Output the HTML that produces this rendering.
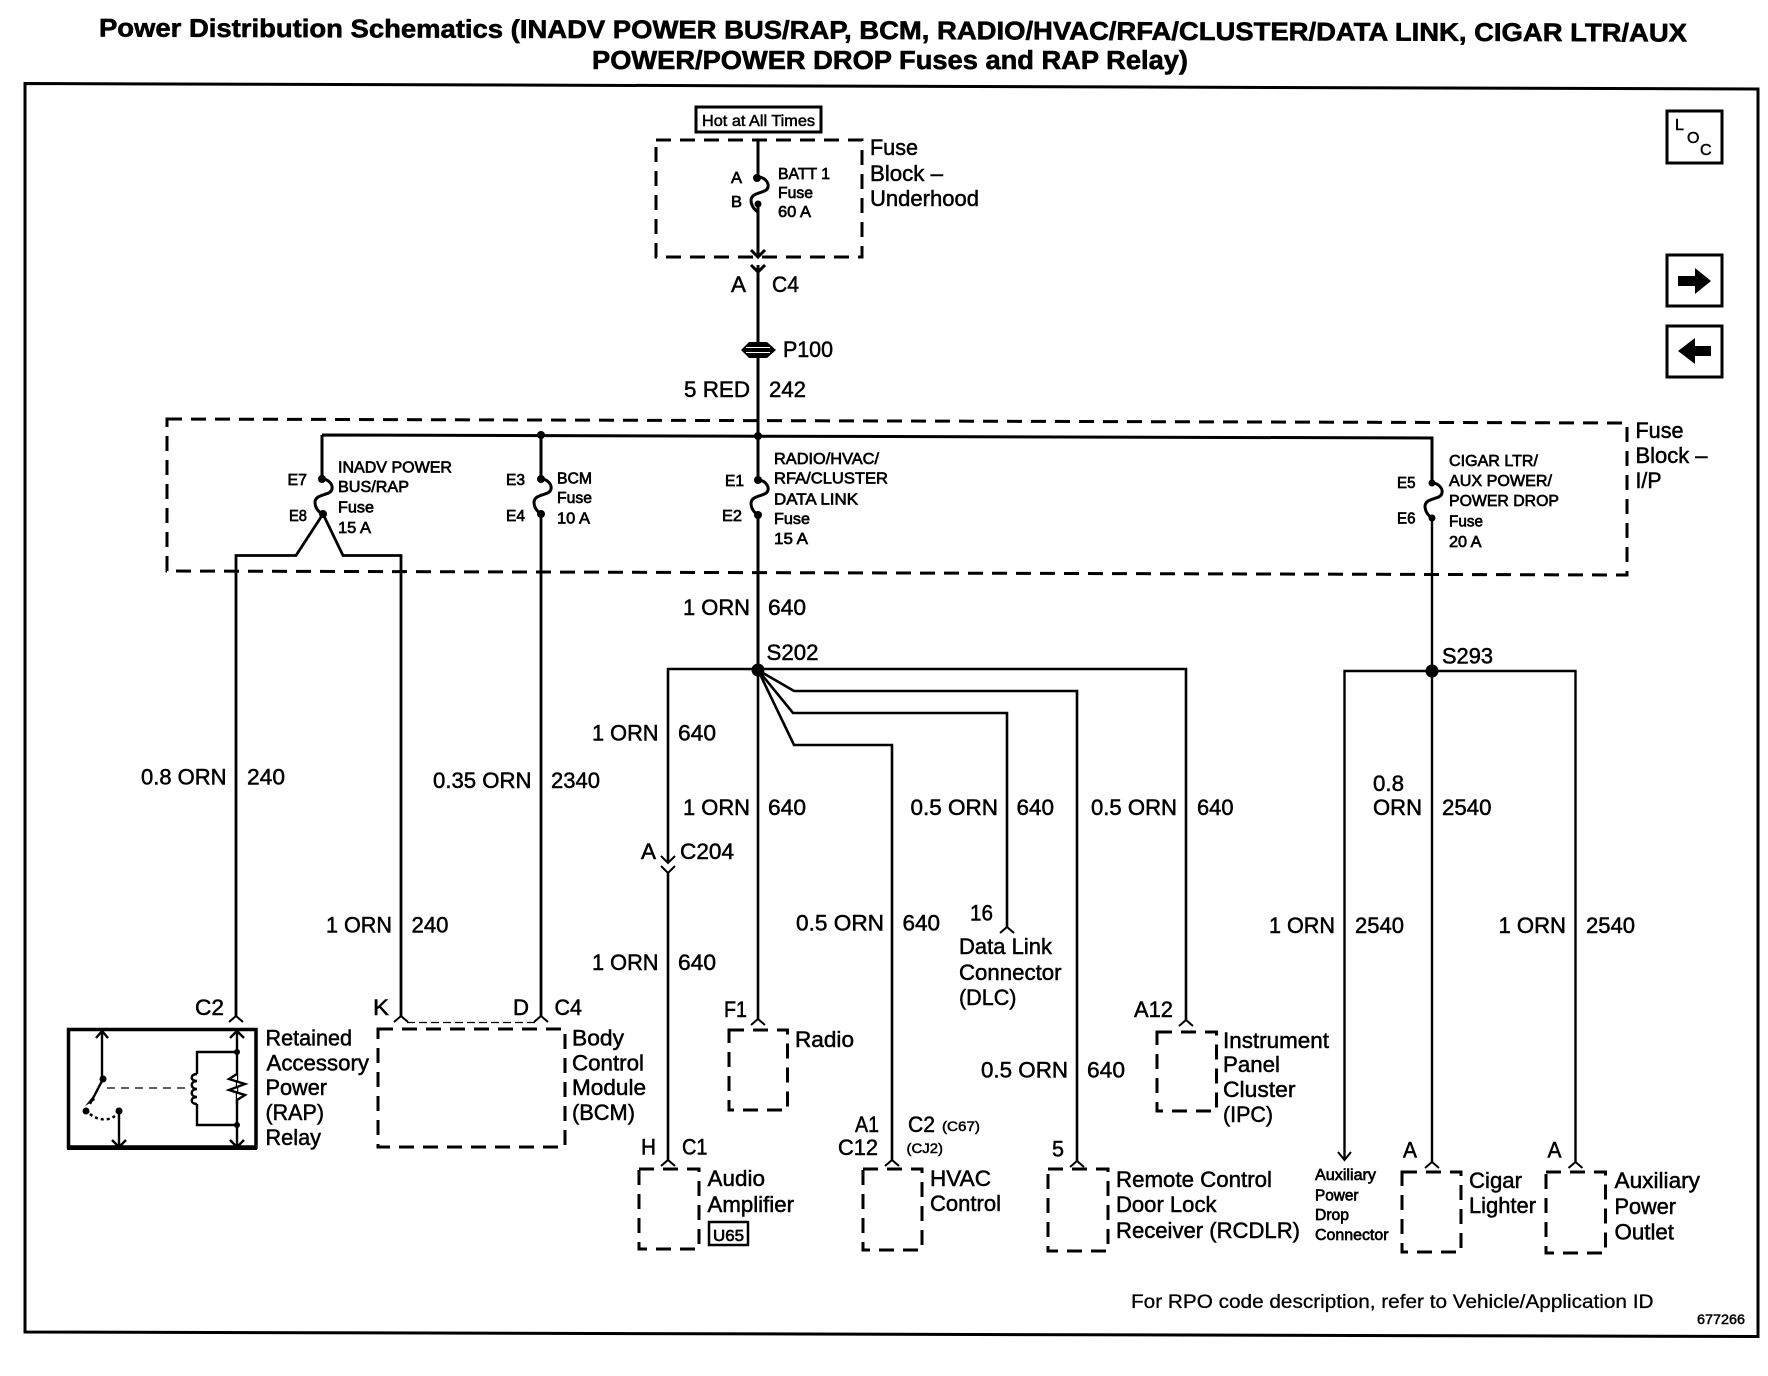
<!DOCTYPE html>
<html><head><meta charset="utf-8"><style>
html,body{margin:0;padding:0;background:#fff}
svg{display:block}
text{font-family:"Liberation Sans",sans-serif;fill:#000;stroke:#000;stroke-width:.5}
.m{font-size:22px}.s{font-size:15.5px;stroke-width:.65}.t{font-size:25.5px;font-weight:bold;stroke-width:.6}.f{font-size:19.5px;stroke-width:.3}.x{font-size:13.5px;stroke-width:.5}
.w{fill:none;stroke:#000;stroke-width:2.4}
.d{fill:none;stroke:#000;stroke-width:3;stroke-dasharray:15 9}
.n{fill:none;stroke:#000;stroke-width:2}
</style></head><body>
<svg width="1768" height="1376" viewBox="0 0 1768 1376" xmlns="http://www.w3.org/2000/svg">
<defs>
<path id="c" class="n" d="M-7 6L0 0L7 6"/>
<path id="fu" class="n" style="stroke-width:3" d="M0 0C6 0 11 5 10 10C9 17 -6 14 -7 23C-7 29 -3 33 0 35"/>
</defs>
<rect width="1768" height="1376" fill="#fff"/>

<!-- Title -->
<text class="t" x="99" y="36.500" textLength="1588" lengthAdjust="spacingAndGlyphs" transform="rotate(.18 99 36.500)">Power Distribution Schematics (INADV POWER BUS/RAP, BCM, RADIO/HVAC/RFA/CLUSTER/DATA LINK, CIGAR LTR/AUX</text>
<text class="t" x="592" y="69" textLength="596" lengthAdjust="spacingAndGlyphs">POWER/POWER DROP Fuses and RAP Relay)</text>

<!-- Frame -->
<path d="M25 83.500L1758 89L1758 1336.500L25 1332Z" fill="none" stroke="#000" stroke-width="3"/>

<!-- Nav boxes -->
<rect x="1667" y="111" width="55" height="52" fill="none" stroke="#000" stroke-width="3"/>
<text x="1675" y="130" style="font-size:16px">L</text><text x="1687" y="143" style="font-size:16px">O</text><text x="1700" y="155" style="font-size:16px">C</text>
<rect x="1667" y="255" width="55" height="51" fill="none" stroke="#000" stroke-width="3"/>
<path d="M1678 276H1695V268L1711 281L1695 294V286H1678Z"/>
<rect x="1667" y="326" width="55" height="51" fill="none" stroke="#000" stroke-width="3"/>
<path d="M1711 346H1695V338L1678 351L1695 364V356H1711Z"/>

<!-- Hot at all times -->
<rect x="696" y="107" width="125" height="25" fill="none" stroke="#000" stroke-width="3"/>
<text x="702" y="126" style="font-size:16px" textLength="113" lengthAdjust="spacingAndGlyphs">Hot at All Times</text>

<!-- Dashed fuse boxes -->
<path class="d" d="M656 140H862V257H656Z"/>
<path class="d" d="M167 419L1627 423V575L167 571Z"/>

<!-- Batt fuse + main wire -->
<path class="w" style="stroke-width:3" d="M758 140V178M758 204V257M758 265V435"/>
<use href="#fu" x="758" y="177" transform="translate(0,0)"/>
<circle cx="757" cy="178" r="4"/><circle cx="758" cy="204" r="3.500"/>
<path class="n" style="stroke-width:3" d="M751 250L758 257L765 250M751 265L758 272L765 265"/>
<path d="M741 350L749 342H767L776 350L767 358H749Z"/>
<path d="M746 347.500H770M746 352.500H770" stroke="#fff" stroke-width="1"/>

<!-- Fuse block I/P wires -->
<path class="w" style="stroke-width:3" d="M322 435L1432 438V483M322 435V479M541 435V479M758 436V480M758 514V670"/>
<path class="w" d="M1432 517V671"/>
<use href="#fu" x="322" y="479"/><use href="#fu" x="541" y="479"/><use href="#fu" x="758" y="480"/><use href="#fu" x="1432" y="483"/>
<circle cx="541" cy="435" r="4"/><circle cx="758" cy="436" r="4"/>
<circle cx="322" cy="479" r="4"/><circle cx="323" cy="514" r="4"/>
<circle cx="541" cy="479" r="4"/><circle cx="541" cy="514" r="4"/>
<circle cx="758" cy="480" r="4"/><circle cx="758" cy="515" r="4"/>
<circle cx="1432" cy="483" r="3.500"/><circle cx="1432" cy="518" r="3.500"/>
<path class="w" style="stroke-width:2.800" d="M323 514L296 555.500H236V1017M323 514L343 555.500H401V1017M541 514V1017"/>

<!-- S202 -->
<path class="w" style="stroke-width:2.600" d="M668 1160V872M668 863V669H758H1186V1020M758 670V1019"/>
<circle cx="758" cy="670" r="6.500"/>
<path class="w" style="stroke-width:2.600" d="M758 670L794 691H1077V1161M758 670L793 713H1007V927M758 670L794 745H892V1160"/>
<path class="n" d="M661 856L668 863L675 856M661 866L668 873L675 866"/>

<!-- S293 -->
<path class="w" style="stroke-width:2.400" d="M1344.500 1158V671H1575.500V1162M1432 671V1162"/>
<circle cx="1432" cy="671" r="6.500"/>
<path class="n" d="M1338 1152L1344.500 1160L1351 1152"/>

<!-- Connector chevrons -->
<use href="#c" x="236" y="1016"/><use href="#c" x="401" y="1016"/><use href="#c" x="541" y="1016"/>
<use href="#c" x="758" y="1019"/><use href="#c" x="668" y="1160"/><use href="#c" x="892" y="1160"/>
<use href="#c" x="1077" y="1161"/><use href="#c" x="1007" y="927"/><use href="#c" x="1186" y="1020"/>
<use href="#c" x="1432" y="1162"/><use href="#c" x="1575.500" y="1162"/>

<!-- Component boxes -->
<path class="n" style="stroke-dasharray:8 4;stroke-width:1.200" d="M407 1022.500H535"/>
<path class="d" d="M378 1029H565V1147H378Z"/>
<path class="d" d="M729 1030H787.500V1110H729Z"/>
<path class="d" d="M639 1169H699V1249H639Z"/>
<path class="d" d="M863 1169H922V1250H863Z"/>
<path class="d" d="M1048 1169H1108V1251H1048Z"/>
<path class="d" d="M1157 1032H1216.500V1111H1157Z"/>
<path class="d" d="M1402 1172H1461V1252H1402Z"/>
<path class="d" d="M1546 1172H1605.500V1253H1546Z"/>

<!-- RAP relay -->
<path d="M68.500 1029.500H256V1147H68.500Z" fill="none" stroke="#000" stroke-width="3.500"/>
<path d="M67 1146H257V1150H67Z"/>
<path class="w" d="M102 1079V1032M96 1038L102 1031L108 1038"/>
<path class="w" d="M103 1079L90 1104"/>
<path class="w" d="M119 1111V1146M112 1140L119 1147L126 1140"/>
<path class="w" d="M237 1031V1147M230 1038L237 1031L244 1038M230 1140L237 1147L244 1140"/>
<path class="w" d="M237 1052H197V1074M197 1104V1125H237"/>
<path class="w" d="M197 1074C190 1074 190 1081 197 1081C190 1081 190 1089 197 1089C190 1089 190 1097 197 1097C190 1097 190 1104 197 1104"/>
<path d="M237 1074L229 1079L245 1084L229 1090L245 1095L237 1100V1104" fill="#fff" stroke="#000" stroke-width="2.400"/>
<path class="n" style="stroke-dasharray:8 6;stroke-width:1.200" d="M107 1088H190"/>
<path class="n" style="stroke-dasharray:3 3;stroke-width:2.500" d="M90 1114C98 1121 110 1121 116 1115"/>
<circle cx="103" cy="1079" r="3.500"/><circle cx="86" cy="1111" r="3.500"/><circle cx="119" cy="1111" r="3.500"/>
<circle cx="237" cy="1052" r="3"/><circle cx="237" cy="1125" r="3"/>
<path d="M85 1106L93 1096L95 1100Z"/>

<!-- U65 -->
<rect x="709" y="1222" width="39" height="23" fill="none" stroke="#000" stroke-width="2.500"/>

<!-- Labels: main -->
<text class="m" x="870" y="155" textLength="48" lengthAdjust="spacingAndGlyphs">Fuse</text>
<text class="m" x="870" y="181" textLength="73" lengthAdjust="spacingAndGlyphs">Block –</text>
<text class="m" x="870" y="206" textLength="109" lengthAdjust="spacingAndGlyphs">Underhood</text>
<text class="m" x="731" y="292" textLength="15" lengthAdjust="spacingAndGlyphs">A</text>
<text class="m" x="772" y="292" textLength="27" lengthAdjust="spacingAndGlyphs">C4</text>
<text class="m" x="783" y="357" textLength="50" lengthAdjust="spacingAndGlyphs">P100</text>
<text class="m" x="684" y="397" textLength="66" lengthAdjust="spacingAndGlyphs">5 RED</text>
<text class="m" x="769" y="397" textLength="37" lengthAdjust="spacingAndGlyphs">242</text>
<text class="m" x="1635.500" y="438" textLength="48" lengthAdjust="spacingAndGlyphs">Fuse</text>
<text class="m" x="1635.500" y="463" textLength="72" lengthAdjust="spacingAndGlyphs">Block –</text>
<text class="m" x="1635.500" y="488" textLength="26" lengthAdjust="spacingAndGlyphs">I/P</text>
<text class="m" x="683" y="615" textLength="67" lengthAdjust="spacingAndGlyphs">1 ORN</text>
<text class="m" x="768" y="615" textLength="38" lengthAdjust="spacingAndGlyphs">640</text>
<text class="m" x="766.500" y="660" textLength="52" lengthAdjust="spacingAndGlyphs">S202</text>
<text class="m" x="1442" y="663.500" textLength="51" lengthAdjust="spacingAndGlyphs">S293</text>
<text class="m" x="592" y="740.500" textLength="66.500" lengthAdjust="spacingAndGlyphs">1 ORN</text>
<text class="m" x="678" y="740.500" textLength="38" lengthAdjust="spacingAndGlyphs">640</text>
<text class="m" x="683" y="815" textLength="67" lengthAdjust="spacingAndGlyphs">1 ORN</text>
<text class="m" x="768" y="815" textLength="38" lengthAdjust="spacingAndGlyphs">640</text>
<text class="m" x="141" y="784.500" textLength="85.500" lengthAdjust="spacingAndGlyphs">0.8 ORN</text>
<text class="m" x="247" y="784.500" textLength="38" lengthAdjust="spacingAndGlyphs">240</text>
<text class="m" x="433" y="788" textLength="98.500" lengthAdjust="spacingAndGlyphs">0.35 ORN</text>
<text class="m" x="551" y="788" textLength="49" lengthAdjust="spacingAndGlyphs">2340</text>
<text class="m" x="641" y="859" textLength="15" lengthAdjust="spacingAndGlyphs">A</text>
<text class="m" x="680" y="859" textLength="54" lengthAdjust="spacingAndGlyphs">C204</text>
<text class="m" x="326" y="932.500" textLength="66" lengthAdjust="spacingAndGlyphs">1 ORN</text>
<text class="m" x="411.500" y="932.500" textLength="37" lengthAdjust="spacingAndGlyphs">240</text>
<text class="m" x="592" y="970" textLength="66.500" lengthAdjust="spacingAndGlyphs">1 ORN</text>
<text class="m" x="678" y="970" textLength="38" lengthAdjust="spacingAndGlyphs">640</text>
<text class="m" x="796" y="930.500" textLength="88" lengthAdjust="spacingAndGlyphs">0.5 ORN</text>
<text class="m" x="902.500" y="930.500" textLength="37.500" lengthAdjust="spacingAndGlyphs">640</text>
<text class="m" x="195" y="1015" textLength="29" lengthAdjust="spacingAndGlyphs">C2</text>
<text class="m" x="373" y="1015" textLength="16" lengthAdjust="spacingAndGlyphs">K</text>
<text class="m" x="513" y="1015" textLength="16" lengthAdjust="spacingAndGlyphs">D</text>
<text class="m" x="554.500" y="1015" textLength="27.500" lengthAdjust="spacingAndGlyphs">C4</text>
<text class="m" x="724" y="1017" textLength="23" lengthAdjust="spacingAndGlyphs">F1</text>
<text class="m" x="265.500" y="1045.500" textLength="86.500" lengthAdjust="spacingAndGlyphs">Retained</text>
<text class="m" x="266.500" y="1070.500" textLength="102.500" lengthAdjust="spacingAndGlyphs">Accessory</text>
<text class="m" x="265.500" y="1095" textLength="61.500" lengthAdjust="spacingAndGlyphs">Power</text>
<text class="m" x="265.500" y="1120" textLength="58.500" lengthAdjust="spacingAndGlyphs">(RAP)</text>
<text class="m" x="265.500" y="1145" textLength="55.500" lengthAdjust="spacingAndGlyphs">Relay</text>
<text class="m" x="572" y="1045.500" textLength="52" lengthAdjust="spacingAndGlyphs">Body</text>
<text class="m" x="572" y="1070.500" textLength="72" lengthAdjust="spacingAndGlyphs">Control</text>
<text class="m" x="572" y="1095" textLength="74" lengthAdjust="spacingAndGlyphs">Module</text>
<text class="m" x="572" y="1120" textLength="63" lengthAdjust="spacingAndGlyphs">(BCM)</text>
<text class="m" x="795" y="1047" textLength="59" lengthAdjust="spacingAndGlyphs">Radio</text>
<text class="m" x="641" y="1154.500" textLength="15" lengthAdjust="spacingAndGlyphs">H</text>
<text class="m" x="682" y="1154.500" textLength="25.500" lengthAdjust="spacingAndGlyphs">C1</text>
<text class="m" x="707.500" y="1186" textLength="57.500" lengthAdjust="spacingAndGlyphs">Audio</text>
<text class="m" x="707.500" y="1212" textLength="86.500" lengthAdjust="spacingAndGlyphs">Amplifier</text>
<text class="m" x="855" y="1132" textLength="24" lengthAdjust="spacingAndGlyphs">A1</text>
<text class="m" x="838" y="1155" textLength="40" lengthAdjust="spacingAndGlyphs">C12</text>
<text class="m" x="910.500" y="815" textLength="87.500" lengthAdjust="spacingAndGlyphs">0.5 ORN</text>
<text class="m" x="1016.500" y="815" textLength="37.500" lengthAdjust="spacingAndGlyphs">640</text>
<text class="m" x="1091" y="815" textLength="86" lengthAdjust="spacingAndGlyphs">0.5 ORN</text>
<text class="m" x="1197" y="815" textLength="36.500" lengthAdjust="spacingAndGlyphs">640</text>
<text class="m" x="1373" y="791" textLength="31" lengthAdjust="spacingAndGlyphs">0.8</text>
<text class="m" x="1373" y="815" textLength="49" lengthAdjust="spacingAndGlyphs">ORN</text>
<text class="m" x="1442" y="815" textLength="49.500" lengthAdjust="spacingAndGlyphs">2540</text>
<text class="m" x="970" y="920.500" textLength="23" lengthAdjust="spacingAndGlyphs">16</text>
<text class="m" x="959" y="954" textLength="93" lengthAdjust="spacingAndGlyphs">Data Link</text>
<text class="m" x="959" y="980" textLength="102.500" lengthAdjust="spacingAndGlyphs">Connector</text>
<text class="m" x="959" y="1005" textLength="57.500" lengthAdjust="spacingAndGlyphs">(DLC)</text>
<text class="m" x="1269" y="933" textLength="66" lengthAdjust="spacingAndGlyphs">1 ORN</text>
<text class="m" x="1355" y="933" textLength="49" lengthAdjust="spacingAndGlyphs">2540</text>
<text class="m" x="1498.500" y="933" textLength="67.500" lengthAdjust="spacingAndGlyphs">1 ORN</text>
<text class="m" x="1586" y="933" textLength="49" lengthAdjust="spacingAndGlyphs">2540</text>
<text class="m" x="1134" y="1017" textLength="39" lengthAdjust="spacingAndGlyphs">A12</text>
<text class="m" x="1223" y="1048" textLength="106" lengthAdjust="spacingAndGlyphs">Instrument</text>
<text class="m" x="1223" y="1072" textLength="57" lengthAdjust="spacingAndGlyphs">Panel</text>
<text class="m" x="1223" y="1097" textLength="72.500" lengthAdjust="spacingAndGlyphs">Cluster</text>
<text class="m" x="1223" y="1122" textLength="50" lengthAdjust="spacingAndGlyphs">(IPC)</text>
<text class="m" x="981" y="1077.500" textLength="87" lengthAdjust="spacingAndGlyphs">0.5 ORN</text>
<text class="m" x="1087" y="1077.500" textLength="38" lengthAdjust="spacingAndGlyphs">640</text>
<text class="m" x="908" y="1132" textLength="27" lengthAdjust="spacingAndGlyphs">C2</text>
<text class="m" x="1052" y="1156.500" textLength="12" lengthAdjust="spacingAndGlyphs">5</text>
<text class="m" x="930" y="1186" textLength="61" lengthAdjust="spacingAndGlyphs">HVAC</text>
<text class="m" x="930" y="1211" textLength="71" lengthAdjust="spacingAndGlyphs">Control</text>
<text class="m" x="1116" y="1187" textLength="156" lengthAdjust="spacingAndGlyphs">Remote Control</text>
<text class="m" x="1116" y="1212" textLength="100.500" lengthAdjust="spacingAndGlyphs">Door Lock</text>
<text class="m" x="1116" y="1238" textLength="184" lengthAdjust="spacingAndGlyphs">Receiver (RCDLR)</text>
<text class="m" x="1403" y="1157.500" textLength="14" lengthAdjust="spacingAndGlyphs">A</text>
<text class="m" x="1547.500" y="1157.500" textLength="14" lengthAdjust="spacingAndGlyphs">A</text>
<text class="m" x="1469" y="1188" textLength="53" lengthAdjust="spacingAndGlyphs">Cigar</text>
<text class="m" x="1469" y="1213" textLength="67" lengthAdjust="spacingAndGlyphs">Lighter</text>
<text class="m" x="1614.500" y="1188" textLength="85.500" lengthAdjust="spacingAndGlyphs">Auxiliary</text>
<text class="m" x="1614.500" y="1214" textLength="61.500" lengthAdjust="spacingAndGlyphs">Power</text>
<text class="m" x="1614.500" y="1239.500" textLength="59.500" lengthAdjust="spacingAndGlyphs">Outlet</text>

<!-- Labels: small -->
<text class="s" x="731" y="183" textLength="11" lengthAdjust="spacingAndGlyphs">A</text>
<text class="s" x="731" y="207" textLength="11" lengthAdjust="spacingAndGlyphs">B</text>
<text class="s" x="778" y="179" textLength="52" lengthAdjust="spacingAndGlyphs">BATT 1</text>
<text class="s" x="778" y="198" textLength="35" lengthAdjust="spacingAndGlyphs">Fuse</text>
<text class="s" x="778" y="217" textLength="33" lengthAdjust="spacingAndGlyphs">60 A</text>
<text class="s" x="338" y="472.500" textLength="114" lengthAdjust="spacingAndGlyphs">INADV POWER</text>
<text class="s" x="338" y="492" textLength="71" lengthAdjust="spacingAndGlyphs">BUS/RAP</text>
<text class="s" x="338" y="512.500" textLength="36" lengthAdjust="spacingAndGlyphs">Fuse</text>
<text class="s" x="338" y="533" textLength="33" lengthAdjust="spacingAndGlyphs">15 A</text>
<text class="s" x="287.500" y="485" textLength="19.500" lengthAdjust="spacingAndGlyphs">E7</text>
<text class="s" x="289" y="521" textLength="18" lengthAdjust="spacingAndGlyphs">E8</text>
<text class="s" x="557" y="483.500" textLength="35" lengthAdjust="spacingAndGlyphs">BCM</text>
<text class="s" x="557" y="503" textLength="35" lengthAdjust="spacingAndGlyphs">Fuse</text>
<text class="s" x="557" y="523.500" textLength="33" lengthAdjust="spacingAndGlyphs">10 A</text>
<text class="s" x="506" y="485" textLength="19" lengthAdjust="spacingAndGlyphs">E3</text>
<text class="s" x="506" y="521" textLength="19" lengthAdjust="spacingAndGlyphs">E4</text>
<text class="s" x="774" y="464" textLength="105" lengthAdjust="spacingAndGlyphs">RADIO/HVAC/</text>
<text class="s" x="774" y="483.500" textLength="114" lengthAdjust="spacingAndGlyphs">RFA/CLUSTER</text>
<text class="s" x="774" y="504.500" textLength="84" lengthAdjust="spacingAndGlyphs">DATA LINK</text>
<text class="s" x="774" y="524" textLength="36" lengthAdjust="spacingAndGlyphs">Fuse</text>
<text class="s" x="774" y="544" textLength="34" lengthAdjust="spacingAndGlyphs">15 A</text>
<text class="s" x="725" y="486" textLength="19" lengthAdjust="spacingAndGlyphs">E1</text>
<text class="s" x="722" y="521" textLength="20" lengthAdjust="spacingAndGlyphs">E2</text>
<text class="s" x="1449" y="466" textLength="89" lengthAdjust="spacingAndGlyphs">CIGAR LTR/</text>
<text class="s" x="1449" y="486" textLength="103" lengthAdjust="spacingAndGlyphs">AUX POWER/</text>
<text class="s" x="1449" y="506" textLength="110" lengthAdjust="spacingAndGlyphs">POWER DROP</text>
<text class="s" x="1449" y="526.500" textLength="34" lengthAdjust="spacingAndGlyphs">Fuse</text>
<text class="s" x="1449" y="547" textLength="32.500" lengthAdjust="spacingAndGlyphs">20 A</text>
<text class="s" x="1397" y="488" textLength="18.500" lengthAdjust="spacingAndGlyphs">E5</text>
<text class="s" x="1397" y="523.500" textLength="18.500" lengthAdjust="spacingAndGlyphs">E6</text>
<text class="x" x="942" y="1131" textLength="38" lengthAdjust="spacingAndGlyphs">(C67)</text>
<text class="x" x="906.500" y="1153" textLength="36.500" lengthAdjust="spacingAndGlyphs">(CJ2)</text>
<text class="s" x="1315" y="1180" textLength="61" lengthAdjust="spacingAndGlyphs">Auxiliary</text>
<text class="s" x="1315" y="1200.500" textLength="43.500" lengthAdjust="spacingAndGlyphs">Power</text>
<text class="s" x="1315" y="1220" textLength="34" lengthAdjust="spacingAndGlyphs">Drop</text>
<text class="s" x="1315" y="1240" textLength="73.500" lengthAdjust="spacingAndGlyphs">Connector</text>
<text class="s" x="713" y="1241" textLength="31" lengthAdjust="spacingAndGlyphs">U65</text>
<text class="f" x="1131" y="1308" textLength="522.500" lengthAdjust="spacingAndGlyphs">For RPO code description, refer to Vehicle/Application ID</text>
<text class="x" x="1697" y="1324" textLength="48" lengthAdjust="spacingAndGlyphs">677266</text>
</svg>
</body></html>
